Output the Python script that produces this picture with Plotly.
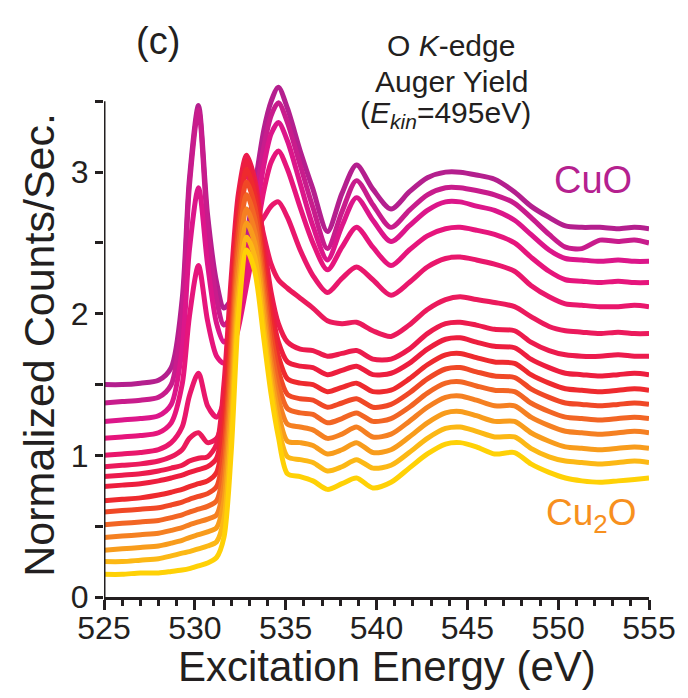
import plotly.graph_objects as go

# Excitation energy grid (eV)
energy = [525, 526, 527, 528, 528.7, 529.3, 529.7, 530.2, 530.7, 531.2, 531.6, 532.0,
          532.4, 532.85, 533.3, 533.8, 534.2, 534.6, 535.1, 535.8, 536.5, 537.3, 538.1,
          538.9, 539.8, 540.8, 541.8, 542.8, 543.8, 544.6, 545.5, 546.5, 547.6, 548.5,
          549.5, 550.4, 551.3, 552.3, 553.3, 554.2, 555]

# Normalized O K-edge Auger yield, stacked from CuO (top) to Cu2O (bottom)
s01 = [1.50, 1.50, 1.51, 1.53, 1.62, 2.10, 2.95, 3.47, 2.70, 2.22, 2.04, 2.10, 2.25, 2.55,
       2.90, 3.30, 3.50, 3.60, 3.45, 3.15, 2.88, 2.58, 2.85, 3.05, 2.88, 2.74, 2.86, 2.96,
       3.00, 3.00, 2.98, 2.95, 2.86, 2.76, 2.68, 2.62, 2.61, 2.61, 2.60, 2.61, 2.60]
s02 = [1.37, 1.38, 1.39, 1.41, 1.50, 2.00, 2.90, 3.44, 2.62, 2.10, 1.92, 1.98, 2.12, 2.42,
       2.78, 3.18, 3.40, 3.49, 3.35, 3.05, 2.75, 2.46, 2.72, 2.94, 2.77, 2.61, 2.73, 2.84,
       2.89, 2.89, 2.87, 2.84, 2.78, 2.68, 2.56, 2.47, 2.46, 2.52, 2.51, 2.52, 2.50]
s03 = [1.24, 1.25, 1.26, 1.28, 1.36, 1.75, 2.45, 2.89, 2.35, 1.93, 1.80, 1.86, 2.00, 2.30,
       2.65, 3.05, 3.27, 3.35, 3.22, 2.92, 2.62, 2.38, 2.62, 2.82, 2.66, 2.51, 2.62, 2.73,
       2.79, 2.79, 2.76, 2.73, 2.66, 2.56, 2.45, 2.39, 2.38, 2.37, 2.38, 2.37, 2.37]
s04 = [1.12, 1.13, 1.14, 1.16, 1.23, 1.50, 1.98, 2.34, 1.95, 1.70, 1.65, 1.72, 1.90, 2.20,
       2.50, 2.87, 3.07, 3.15, 3.02, 2.75, 2.50, 2.31, 2.47, 2.61, 2.47, 2.34, 2.45, 2.55,
       2.60, 2.61, 2.59, 2.56, 2.50, 2.40, 2.30, 2.24, 2.23, 2.22, 2.23, 2.22, 2.22]
s05 = [1.00, 1.01, 1.02, 1.04, 1.09, 1.20, 1.42, 1.58, 1.35, 1.27, 1.38, 1.65, 2.05, 2.42,
       2.58, 2.68, 2.76, 2.79, 2.68, 2.45, 2.27, 2.15, 2.25, 2.33, 2.24, 2.13, 2.22, 2.33,
       2.39, 2.40, 2.38, 2.35, 2.30, 2.20, 2.12, 2.07, 2.06, 2.05, 2.05, 2.06, 2.05]
s06 = [0.92, 0.93, 0.94, 0.96, 0.99, 1.04, 1.12, 1.16, 1.09, 1.12, 1.30, 1.75, 2.50, 2.98,
       2.85, 2.55, 2.35, 2.24, 2.18, 2.11, 2.04, 1.95, 1.93, 1.94, 1.88, 1.84, 1.92, 2.03,
       2.10, 2.12, 2.10, 2.08, 2.05, 1.98, 1.91, 1.88, 1.87, 1.86, 1.87, 1.86, 1.86]
s07 = [0.85, 0.86, 0.87, 0.89, 0.91, 0.93, 0.96, 0.98, 0.99, 1.08, 1.50, 2.25, 2.85, 3.12,
       2.95, 2.50, 2.15, 1.93, 1.80, 1.75, 1.74, 1.70, 1.72, 1.74, 1.68, 1.68, 1.75, 1.86,
       1.93, 1.94, 1.92, 1.89, 1.88, 1.80, 1.74, 1.71, 1.70, 1.70, 1.71, 1.70, 1.70]
s08 = [0.78, 0.79, 0.80, 0.82, 0.84, 0.86, 0.88, 0.90, 0.92, 0.98, 1.35, 2.10, 2.78, 3.08,
       2.90, 2.42, 2.05, 1.80, 1.66, 1.63, 1.62, 1.57, 1.60, 1.63, 1.57, 1.58, 1.65, 1.75,
       1.82, 1.83, 1.80, 1.77, 1.76, 1.68, 1.62, 1.58, 1.57, 1.56, 1.57, 1.58, 1.57]
s09 = [0.68, 0.69, 0.70, 0.72, 0.74, 0.76, 0.78, 0.80, 0.82, 0.88, 1.20, 1.95, 2.68, 3.02,
       2.84, 2.35, 1.96, 1.70, 1.54, 1.51, 1.50, 1.45, 1.48, 1.51, 1.45, 1.46, 1.54, 1.64,
       1.71, 1.72, 1.69, 1.66, 1.65, 1.57, 1.51, 1.47, 1.46, 1.45, 1.46, 1.47, 1.46]
s10 = [0.60, 0.61, 0.62, 0.63, 0.65, 0.67, 0.69, 0.71, 0.73, 0.78, 1.05, 1.80, 2.58, 2.93,
       2.76, 2.26, 1.86, 1.60, 1.43, 1.40, 1.39, 1.34, 1.37, 1.40, 1.34, 1.36, 1.44, 1.54,
       1.61, 1.62, 1.59, 1.56, 1.55, 1.47, 1.41, 1.37, 1.36, 1.35, 1.36, 1.37, 1.36]
s11 = [0.51, 0.52, 0.53, 0.54, 0.56, 0.58, 0.60, 0.62, 0.64, 0.68, 0.92, 1.65, 2.47, 2.84,
       2.67, 2.17, 1.76, 1.50, 1.33, 1.30, 1.29, 1.23, 1.26, 1.30, 1.24, 1.26, 1.34, 1.44,
       1.51, 1.52, 1.49, 1.46, 1.45, 1.37, 1.31, 1.27, 1.26, 1.25, 1.26, 1.27, 1.26]
s12 = [0.42, 0.43, 0.44, 0.45, 0.47, 0.49, 0.51, 0.53, 0.55, 0.58, 0.80, 1.50, 2.35, 2.74,
       2.58, 2.08, 1.66, 1.40, 1.22, 1.20, 1.18, 1.12, 1.15, 1.20, 1.13, 1.15, 1.24, 1.34,
       1.41, 1.42, 1.39, 1.35, 1.35, 1.27, 1.21, 1.17, 1.16, 1.15, 1.16, 1.17, 1.16]
s13 = [0.33, 0.34, 0.35, 0.36, 0.38, 0.40, 0.42, 0.44, 0.46, 0.49, 0.68, 1.35, 2.22, 2.64,
       2.50, 2.00, 1.58, 1.30, 1.10, 1.09, 1.07, 1.01, 1.04, 1.09, 1.02, 1.04, 1.13, 1.23,
       1.30, 1.31, 1.28, 1.24, 1.24, 1.16, 1.10, 1.06, 1.05, 1.04, 1.05, 1.06, 1.05]
s14 = [0.25, 0.25, 0.26, 0.27, 0.29, 0.31, 0.32, 0.34, 0.36, 0.39, 0.55, 1.18, 2.10, 2.54,
       2.40, 1.90, 1.50, 1.20, 0.99, 0.97, 0.95, 0.89, 0.92, 0.97, 0.91, 0.93, 1.02, 1.12,
       1.19, 1.20, 1.17, 1.13, 1.13, 1.05, 0.99, 0.96, 0.95, 0.94, 0.95, 0.96, 0.95]
s15 = [0.16, 0.16, 0.17, 0.17, 0.18, 0.19, 0.20, 0.22, 0.24, 0.28, 0.42, 1.02, 1.98, 2.45,
       2.30, 1.82, 1.43, 1.13, 0.87, 0.85, 0.82, 0.76, 0.80, 0.84, 0.77, 0.81, 0.91, 1.01,
       1.08, 1.09, 1.06, 1.01, 1.02, 0.94, 0.88, 0.84, 0.82, 0.81, 0.82, 0.83, 0.84]

series = [s01, s02, s03, s04, s05, s06, s07, s08, s09, s10, s11, s12, s13, s14, s15]
colors = ["#b41f8e", "#c81c8c", "#dc168a", "#e6157c", "#e9176c", "#eb1a5c", "#ec1b4d",
          "#ed1e3e", "#ee2a2e", "#f04826", "#f26524", "#f58022", "#f89c1c", "#fcb815",
          "#ffd106"]

y_ticks = [0, 1, 2, 3]
x_ticks = [525, 530, 535, 540, 545, 550, 555]
Y_AXIS_TOP = 3.5      # visible extent of the left axis line
Y_VIEW_TOP = 3.7      # headroom so the tallest peak is not clipped

AXIS = "#231f20"
TICK_FONT = dict(family="Liberation Sans, Arial", size=32, color=AXIS)
TEXT_FONT = "Liberation Sans, Arial, Helvetica"

fig = go.Figure()
for ys, col in zip(series, colors):
    fig.add_trace(go.Scatter(x=energy, y=ys, mode="lines",
                             line=dict(color=col, width=5, shape="spline", smoothing=0.8),
                             showlegend=False, hoverinfo="skip"))

fig.update_layout(
    width=688, height=698,
    margin=dict(l=104, r=33, t=73, b=101),
    paper_bgcolor="white", plot_bgcolor="white",
    xaxis=dict(range=[525, 555], tickvals=x_ticks, ticks="outside", ticklen=10, tickwidth=3,
               tickcolor=AXIS, showline=True, linewidth=3, linecolor=AXIS, showgrid=False,
               zeroline=False, tickfont=TICK_FONT, ticklabelstandoff=-9,
               minor=dict(dtick=1, ticks="outside", ticklen=6, tickwidth=2.5, tickcolor=AXIS,
                          showgrid=False)),
    yaxis=dict(range=[0, Y_VIEW_TOP], tickvals=y_ticks, ticks="outside",
               ticklen=8, tickwidth=3, tickcolor=AXIS, showline=False, showgrid=False,
               zeroline=False, tickfont=TICK_FONT,
               minor=dict(tickvals=[0.5, 1.5, 2.5, 3.5], ticks="outside", ticklen=8,
                          tickwidth=3, tickcolor=AXIS, showgrid=False)),
)

# left axis line stops at the top tick
fig.add_shape(type="line", xref="x", yref="y", x0=525, x1=525, y0=0, y1=Y_AXIS_TOP,
              line=dict(color=AXIS, width=3), layer="above")


def px_to_paper(px, py):
    return (px - 104) / 551.0, (597 - py) / 524.0


labels = [
    ("(c)", 159, 41, 38, AXIS, 0),
    ("O <i>K</i>-edge", 455, 45, 30, AXIS, 0),
    ("Auger Yield", 455, 81, 30, AXIS, 0),
    ("(<i>E<sub>kin</sub></i>=495eV)", 449, 114, 30, AXIS, 0),
    ("CuO", 598, 180, 38, "#b5218f", 0),
    ("Cu<sub>2</sub>O", 597, 515, 37, "#f7901e", 0),
    ("Excitation Energy (eV)", 390, 666, 42, AXIS, 0),
    ("Normalized Counts/Sec.", 38, 345, 43, AXIS, -90),
]
for text, px, py, size, col, angle in labels:
    xp, yp = px_to_paper(px, py)
    fig.add_annotation(text=text, x=xp, y=yp, xref="paper", yref="paper",
                       showarrow=False, xanchor="center", yanchor="middle", textangle=angle,
                       font=dict(family=TEXT_FONT, size=size, color=col))

fig.write_html("out.html")
